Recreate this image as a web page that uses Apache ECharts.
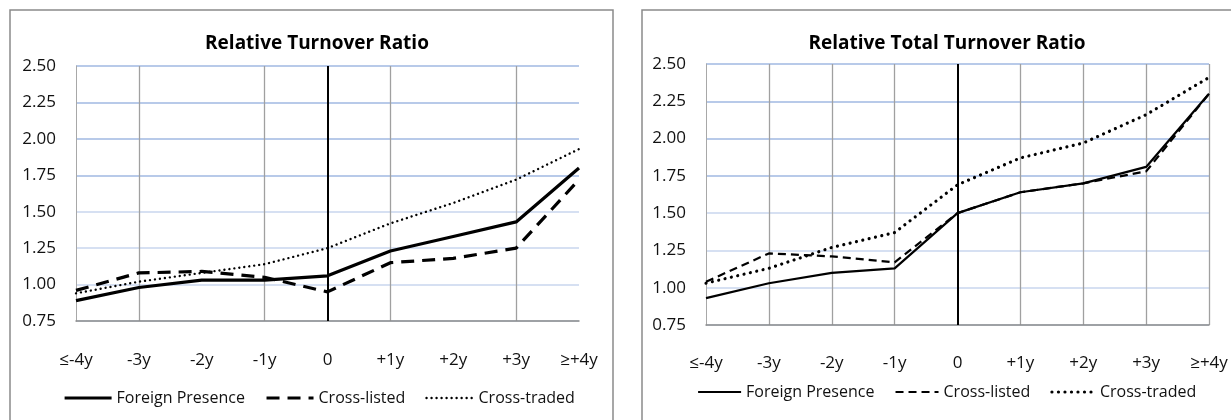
<!DOCTYPE html>
<html>
<head>
<meta charset="utf-8">
<script src="https://cdn.jsdelivr.net/npm/echarts@6/dist/echarts.min.js"></script>
<style>html,body{margin:0;padding:0;background:#fff}#c{width:1231px;height:420px}</style>
</head>
<body>
<div id="c"></div>
<script>
var categories = ['≤-4y','-3y','-2y','-1y','0','+1y','+2y','+3y','≥+4y'];
var seriesNames = ['Foreign Presence','Cross-listed','Cross-traded'];
var yTicks = [0.75, 2.50, 0.25]; // min, max, interval

// Left chart: Relative Turnover Ratio
var leftForeign = [0.89, 0.98, 1.03, 1.03, 1.06, 1.23, 1.33, 1.43, 1.80];
var leftListed  = [0.96, 1.08, 1.09, 1.05, 0.95, 1.15, 1.18, 1.25, 1.72];
var leftTraded  = [0.94, 1.02, 1.08, 1.14, 1.25, 1.42, 1.56, 1.72, 1.93];

// Right chart: Relative Total Turnover Ratio
var rightForeign = [0.93, 1.03, 1.10, 1.13, 1.50, 1.64, 1.70, 1.81, 2.30];
var rightListed  = [1.04, 1.23, 1.21, 1.17, 1.50, 1.64, 1.70, 1.78, 2.30];
var rightTraded  = [1.03, 1.13, 1.27, 1.37, 1.69, 1.87, 1.97, 2.16, 2.41];

var FONT = 'Open Sans';
var chart = echarts.init(document.getElementById('c'), null, {renderer:'canvas'});

function yAxis(gi){
  return {
    type:'value', gridIndex:gi, min:yTicks[0], max:yTicks[1], interval:yTicks[2],
    axisLine:{show:true, lineStyle:{color:'#a8a8a8', width:1}},
    axisTick:{show:false},
    axisLabel:{formatter:function(v){return v.toFixed(2);}, color:'#111', fontFamily:FONT, fontSize:17, margin:20},
    splitLine:{show:true, lineStyle:{color:['#c9d6ee','#c9d6ee','#c9d6ee','#c9d6ee','#a0b9e2','#a0b9e2','#a0b9e2','#a0b9e2'], width:1.6}}
  };
}
function xAxis(gi, gridIdx, margin){
  return {
    type:'category', gridIndex:gi, data:categories, boundaryGap:false,
    axisLine:{show:true, lineStyle:{color:'#8c8c8c', width:1.5}},
    axisTick:{show:false},
    axisLabel:{color:'#111', fontFamily:FONT, fontSize:17, margin:margin, interval:0},
    splitLine:{show:true, interval:function(i){return gridIdx.indexOf(i)>=0;}, lineStyle:{color:'#a0a0a0', width:1.3}}
  };
}
function mk(name, data, gi, style){
  return {name:name, type:'line', xAxisIndex:gi, yAxisIndex:gi, data:data, symbol:'none', smooth:false,
    lineStyle:style, itemStyle:{color:'#000'}, color:'#000', z:3, animation:false};
}
var zeroLine = {silent:true, symbol:['none','none'], label:{show:false}, lineStyle:{color:'#000', type:'solid', width:2}, data:[{xAxis:4}], animation:false};

var L1 = {color:'#000', width:3.2, type:'solid'};
var L2 = {color:'#000', width:3.2, type:[13,8]};
var L3 = {color:'#000', width:2.4, type:[0.01,5], cap:'round'};
var R1 = {color:'#000', width:2.2, type:'solid'};
var R2 = {color:'#000', width:2.2, type:[8,5]};
var R3 = {color:'#000', width:3.2, type:[0.01,6.5], cap:'round'};

var s1 = mk(seriesNames[0], leftForeign, 0, L1);
s1.markLine = zeroLine;
var s2 = mk(seriesNames[1], leftListed, 0, L2);
var s3 = mk(seriesNames[2], leftTraded, 0, L3);
var r1 = mk(seriesNames[0], rightForeign, 1, R1);
r1.markLine = JSON.parse(JSON.stringify(zeroLine));
var r2 = mk(seriesNames[1], rightListed, 1, R2);
var r3 = mk(seriesNames[2], rightTraded, 1, R3);

var legText = {fontFamily:FONT, fontSize:16, color:'#111'};
chart.setOption({
  animation:false,
  title:[
    {text:'Relative Turnover Ratio', left:312, top:29, textAlign:'center', textStyle:{fontFamily:FONT, fontWeight:'bold', fontSize:19, color:'#000'}},
    {text:'Relative Total Turnover Ratio', left:942, top:29, textAlign:'center', textStyle:{fontFamily:FONT, fontWeight:'bold', fontSize:19, color:'#000'}}
  ],
  graphic:[
    {type:'rect', shape:{x:10, y:10, width:603, height:420}, style:{fill:'none', stroke:'#8a8a8a', lineWidth:1.5}, silent:true, z:-1},
    {type:'rect', shape:{x:642, y:10, width:610, height:420}, style:{fill:'none', stroke:'#8a8a8a', lineWidth:1.5}, silent:true, z:-1}
  ],
  legend:[
    {left:63, top:390, padding:0, itemWidth:47, itemHeight:20, itemGap:20, selectedMode:false, textStyle:legText,
     itemStyle:{opacity:0},
     data:[{name:seriesNames[0], lineStyle:L1},{name:seriesNames[1], lineStyle:L2},{name:seriesNames[2], lineStyle:L3}]},
    {left:697, top:384, padding:0, itemWidth:43, itemHeight:20, itemGap:20, selectedMode:false, textStyle:legText,
     itemStyle:{opacity:0},
     data:[{name:seriesNames[0], lineStyle:R1},{name:seriesNames[1], lineStyle:R2},{name:seriesNames[2], lineStyle:R3}]}
  ],
  grid:[
    {left:76, top:66, width:503, height:255},
    {left:706, top:64, width:503, height:261}
  ],
  xAxis:[xAxis(0,[1,3,5,7],31), xAxis(1,[1,2,3,5,6,7,8],30)],
  yAxis:[yAxis(0), yAxis(1)],
  series:[s1,s2,s3,r1,r2,r3]
});
</script>
</body>
</html>
